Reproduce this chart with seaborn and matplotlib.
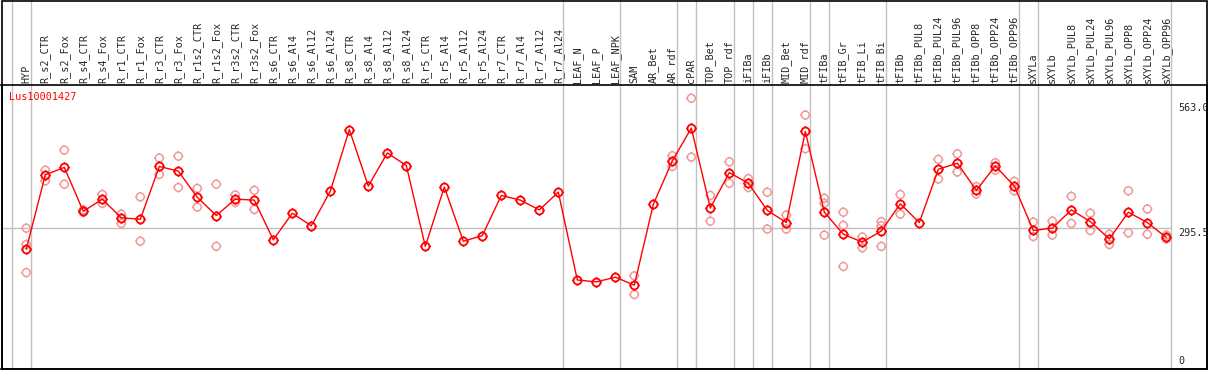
import numpy as np
import pandas as pd
import matplotlib
matplotlib.use("Agg")
import matplotlib.pyplot as plt
from matplotlib.path import Path
import seaborn as sns

categories = ["HYP", "R_s2_CTR", "R_s2_Fox", "R_s4_CTR", "R_s4_Fox", "R_r1_CTR", "R_r1_Fox",
              "R_r3_CTR", "R_r3_Fox", "R_r1s2_CTR", "R_r1s2_Fox", "R_r3s2_CTR", "R_r3s2_Fox",
              "R_s6_CTR", "R_s6_Al4", "R_s6_Al12", "R_s6_Al24", "R_s8_CTR", "R_s8_Al4",
              "R_s8_Al12", "R_s8_Al24", "R_r5_CTR", "R_r5_Al4", "R_r5_Al12", "R_r5_Al24",
              "R_r7_CTR", "R_r7_Al4", "R_r7_Al12", "R_r7_Al24", "LEAF_N", "LEAF_P", "LEAF_NPK",
              "SAM", "AR_Bet", "AR_rdf", "cPAR", "TOP_Bet", "TOP_rdf", "iFIBa", "iFIBb",
              "MID_Bet", "MID_rdf", "tFIBa", "tFIB_Gr", "tFIB_Li", "tFIB_Bi", "tFIBb",
              "tFIBb_PUL8", "tFIBb_PUL24", "tFIBb_PUL96", "tFIBb_OPP8", "tFIBb_OPP24",
              "tFIBb_OPP96", "sXYLa", "sXYLb", "sXYLb_PUL8", "sXYLb_PUL24", "sXYLb_PUL96",
              "sXYLb_OPP8", "sXYLb_OPP24", "sXYLb_OPP96"]

means = [250, 409, 425, 331, 357, 317, 314, 427, 417, 361, 322, 357, 355,
         270, 327, 300, 374, 506, 385, 456, 429, 256, 383, 267, 279,
         365, 355, 334, 372, 184, 180, 190, 173, 346, 439, 509, 338, 414,
         391, 333, 307, 502, 329, 282, 265, 289, 347, 307, 421, 434, 376,
         428, 385, 290, 295, 334, 309, 272, 329, 307, 275]

replicates = [[295, 260, 200], [419, 396], [462, 389], [334, 329], [367, 348],
              [325, 305], [362, 267], [445, 410], [449, 382], [380, 340],
              [389, 256], [366, 350], [376, 335], [], [], [], [], [], [], [],
              [], [], [], [], [], [], [], [], [], [], [], [], [193, 153], [],
              [450, 427], [573, 447], [365, 310], [437, 391], [401, 382],
              [372, 293], [323, 293], [537, 465], [359, 348, 280],
              [329, 301, 213], [276, 253], [309, 300, 256], [367, 325], [],
              [442, 400], [454, 415], [384, 368], [435, 419], [395, 375],
              [308, 277], [310, 280], [363, 305], [327, 290], [282, 260],
              [375, 285], [336, 282], [280, 272]]

# group boundaries (after these category indices)
group_ends = [-1, 0, 28, 31, 34, 35, 37, 38, 39, 41, 42, 45, 52, 53, 60]

gene = "Lus10001427"
max_val = 563.0
mid_val = 295.5

df_mean = pd.DataFrame({"pos": np.arange(len(categories)), "value": means})
df_rep = pd.DataFrame([(i, v) for i, reps in enumerate(replicates) for v in reps],
                      columns=["pos", "value"])

# circle with four little ticks, like the old pixel plots
circ = Path.unit_circle()
circ = Path(circ.vertices * 0.78, circ.codes)
ticks = [Path([(0, 0.78), (0, 1)]), Path([(0, -0.78), (0, -1)]),
         Path([(0.78, 0), (1, 0)]), Path([(-0.78, 0), (-1, 0)])]
sun = Path.make_compound_path(circ, *ticks)

sns.set_style("white")
plt.rcParams["font.family"] = ["DejaVu Sans Mono"]

W, H = 1209, 370
fig = plt.figure(figsize=(W / 100, H / 100), dpi=100)
ax = fig.add_axes([1.5 / W, 1 / H, 1205.5 / W, 284 / H])

xmin, xmax = -1.305, 62.14
ax.set_xlim(xmin, xmax)
ax.set_ylim(-6.42, 601.3)

gray = "#c0c0c0"
head = 369 / 284
for g in group_ends:
    ax.axvline(g + 0.23, ymin=0, ymax=head, color=gray, lw=1, clip_on=False, zorder=1)
ax.hlines(mid_val, xmin, group_ends[-1] + 0.23, color=gray, lw=1, zorder=1)

sns.scatterplot(data=df_rep, x="pos", y="value", ax=ax, marker=sun, s=52,
                facecolor="none", edgecolor="#f09a9a", linewidth=1.1, zorder=2)
sns.lineplot(data=df_mean, x="pos", y="value", ax=ax, color="red", lw=1.0,
             marker=sun, markersize=7.3, markerfacecolor="none",
             markeredgecolor="red", markeredgewidth=1.3, zorder=3)

ax.set_xticks(range(len(categories)))
ax.set_xticklabels(categories, rotation=90, fontsize=7.3)
ax.xaxis.tick_top()
ax.tick_params(axis="x", length=0, pad=1.5)
ax.set_yticks([])
ax.set_xlabel("")
ax.set_ylabel("")
for s in ax.spines.values():
    s.set_color("black")
    s.set_linewidth(1.2)

tr = ax.get_yaxis_transform()
lx = (1178 - 1.5) / 1205.5
ax.text(lx, max_val, f"{max_val:.1f}", transform=tr, va="top", ha="left", fontsize=7.3)
ax.text(lx, mid_val, f"{mid_val:.1f}", transform=tr, va="top", ha="left", fontsize=7.3)
ax.text(lx, 0, "0", transform=tr, va="bottom", ha="left", fontsize=7.3)

fig.text(9.5 / W, 1 - 97 / H, gene, color="red", va="center", ha="left", fontsize=7.3)

fig.add_artist(plt.Rectangle((1.5 / W, 1 / H), 1205.5 / W, 368.5 / H, fill=False,
                             edgecolor="black", lw=1.2, transform=fig.transFigure))

fig.savefig("out.png", dpi=100)
